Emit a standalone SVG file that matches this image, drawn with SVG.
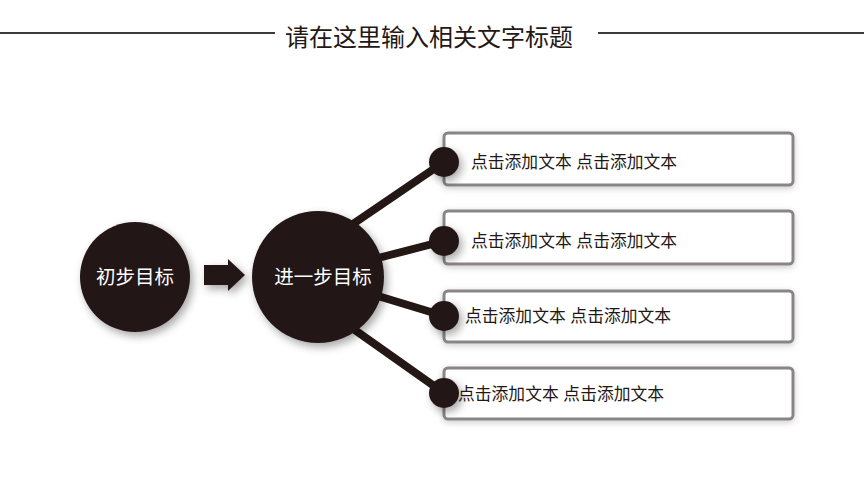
<svg xmlns="http://www.w3.org/2000/svg" width="864" height="486" viewBox="0 0 864 486">
<defs>
<style>
.t{font-family:"Liberation Sans","Noto Sans CJK SC",sans-serif;}
.title{font-size:24px;fill:#231815;}
.ct{font-size:19.5px;fill:#ffffff;}
.bt{font-size:16.8px;fill:#231815;}
.dark{fill:#231815;}
.box{fill:#ffffff;stroke:#898586;stroke-width:3;}
.conn{stroke:#231815;stroke-width:8;fill:none;}
.rule{stroke:#3e3a39;stroke-width:2;}
</style>
<filter id="sh" x="-30%" y="-30%" width="160%" height="160%">
<feDropShadow dx="3" dy="4" stdDeviation="4" flood-color="#000" flood-opacity="0.35"/>
</filter>
<filter id="bsh" x="-10%" y="-30%" width="120%" height="160%">
<feDropShadow dx="0" dy="2" stdDeviation="3" flood-color="#000" flood-opacity="0.2"/>
</filter>
</defs>
<g id="title">
<line class="rule" x1="0" y1="33" x2="275" y2="33"/>
<line class="rule" x1="598" y1="33" x2="864" y2="33"/>
<text class="t title" x="429" y="46" text-anchor="middle">请在这里输入相关文字标题</text>
</g>
<g id="connectors">
<line class="conn" x1="350" y1="226" x2="444" y2="162"/>
<line class="conn" x1="378" y1="258" x2="444" y2="241"/>
<line class="conn" x1="378" y1="296" x2="444" y2="316"/>
<line class="conn" x1="352" y1="328" x2="444" y2="393"/>
<path class="dark" d="M204,265 H228 V259 L245,275 L228,291 V285 H204 Z" filter="url(#sh)"/>
</g>
<g id="node-start">
<circle class="dark" cx="135" cy="277" r="55" filter="url(#sh)"/>
<text class="t ct" x="135" y="284" text-anchor="middle">初步目标</text>
</g>
<g id="node-next">
<circle class="dark" cx="318" cy="277" r="66" filter="url(#sh)"/>
<text class="t ct" x="323" y="284" text-anchor="middle">进一步目标</text>
</g>
<g id="item1">
<rect class="box" x="444" y="133" width="349" height="52" rx="4" filter="url(#bsh)"/>
<circle class="dark" cx="444" cy="162" r="15" filter="url(#sh)"/>
<text class="t bt" x="471" y="168">点击添加文本 点击添加文本</text>
</g>
<g id="item2">
<rect class="box" x="444" y="211" width="349" height="53" rx="4" filter="url(#bsh)"/>
<circle class="dark" cx="444" cy="241" r="15" filter="url(#sh)"/>
<text class="t bt" x="471" y="247">点击添加文本 点击添加文本</text>
</g>
<g id="item3">
<rect class="box" x="444" y="291" width="349" height="51" rx="4" filter="url(#bsh)"/>
<circle class="dark" cx="444" cy="316" r="15" filter="url(#sh)"/>
<text class="t bt" x="465" y="322">点击添加文本 点击添加文本</text>
</g>
<g id="item4">
<rect class="box" x="444" y="368" width="349" height="51" rx="4" filter="url(#bsh)"/>
<circle class="dark" cx="444" cy="393" r="15" filter="url(#sh)"/>
<text class="t bt" x="458" y="400">点击添加文本 点击添加文本</text>
</g>
</svg>
